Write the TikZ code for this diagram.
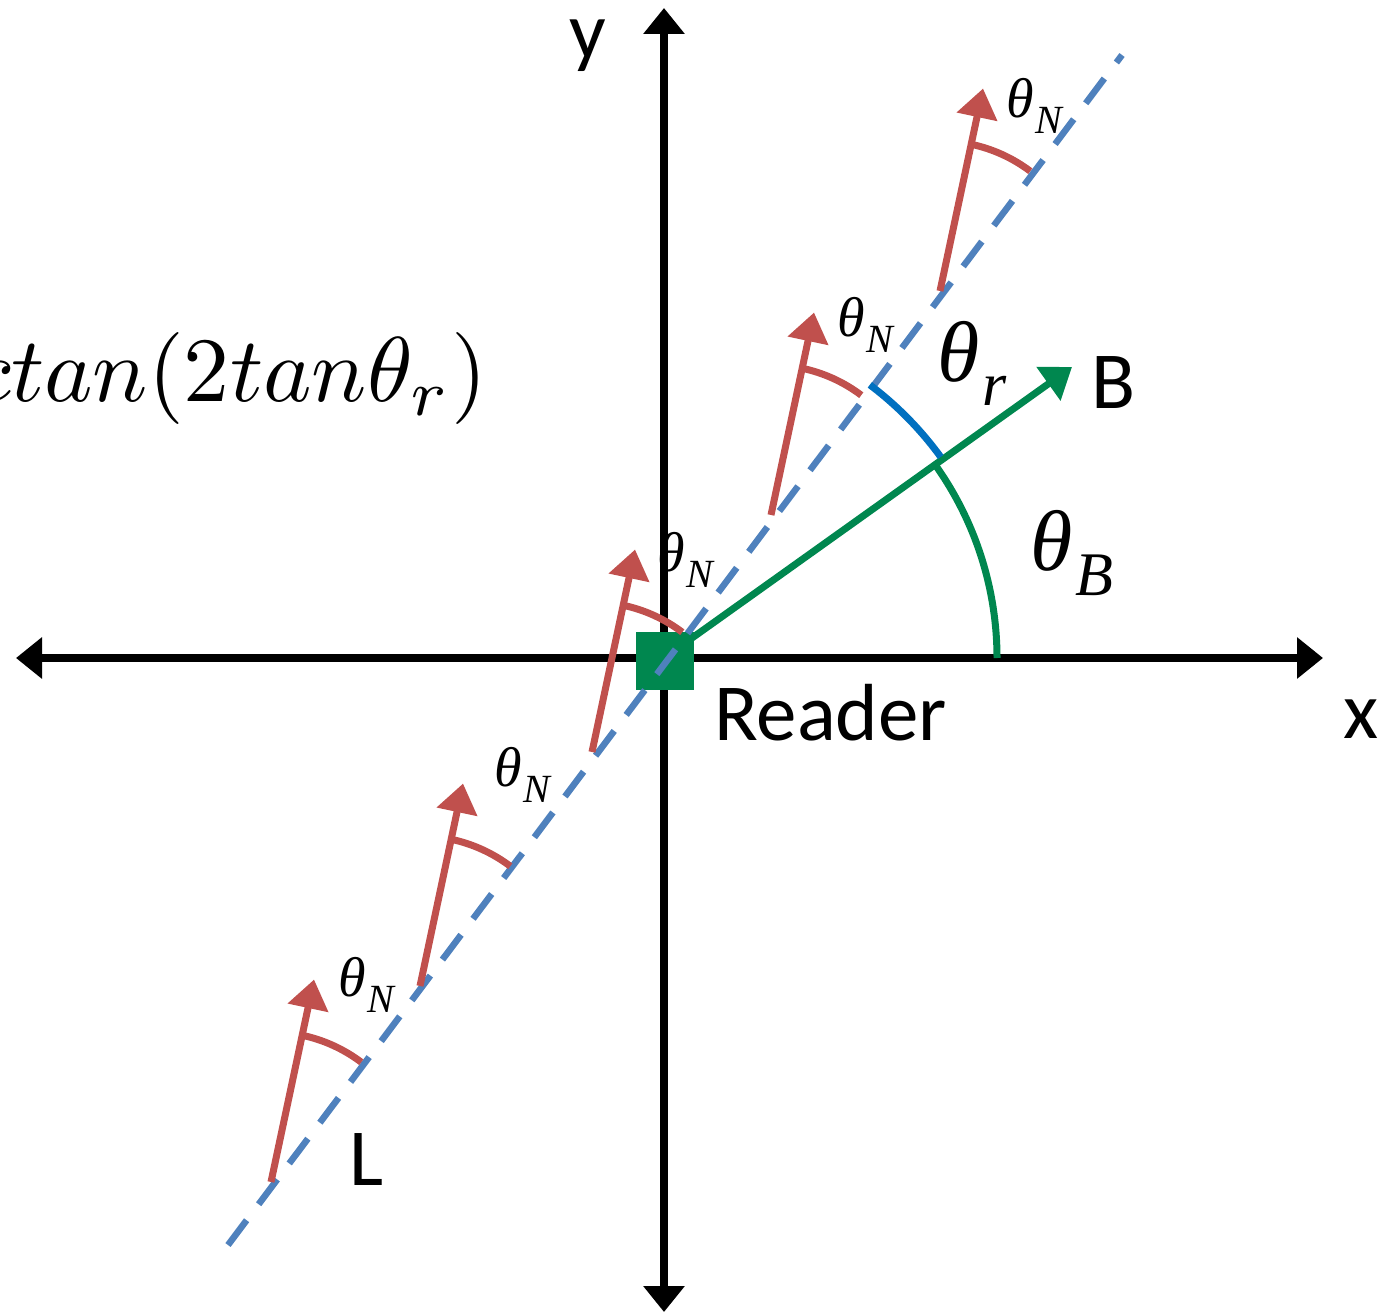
\documentclass[tikz,border=0pt]{standalone}
\usepackage{graphicx}
\usepackage{fontspec}
\setmainfont{Carlito}
\newfontfamily\thetafont{Liberation Serif}
\newcommand{\thlab}[3]{{\fontsize{#1}{#1}\selectfont\thetafont\itshape θ\kern0.03em\raisebox{-0.28em}{\fontsize{#2}{#2}\selectfont #3}}}
\usetikzlibrary{arrows.meta,calc}
\definecolor{axred}{HTML}{C0504D}
\definecolor{axblue}{HTML}{4F81BD}
\definecolor{axgreen}{HTML}{00874F}
\definecolor{arcblue}{HTML}{0070C0}
\begin{document}
\begin{tikzpicture}[x=1pt,y=-1pt,
  axisline/.style={line width=8.5pt,{Triangle[width=40pt,length=26pt]}-{Triangle[width=40pt,length=26pt]}},
  dashline/.style={axblue,line width=6.5pt,dash pattern=on 31pt off 20pt},
  redarrow/.style={axred,line width=7pt,-{Triangle[width=40pt,length=29pt]}},
  redarc/.style={axred,line width=7pt},
  greenarrow/.style={axgreen,line width=7pt,-{Triangle[width=40pt,length=29pt]}},
  lbl/.style={inner sep=0pt,font=\fontsize{81}{90}\selectfont},
  mathlbl/.style={inner sep=0pt},
  reader/.style={fill=axgreen,minimum size=58pt,inner sep=0pt}
]
\useasboundingbox (0,0) rectangle (1384,1313);

% axes
\coordinate (xl) at (16,658);
\coordinate (xr) at (1323,658);
\coordinate (yt) at (664,8);
\coordinate (yb) at (664,1312);
\draw[axisline] (xl) -- (xr);
\draw[axisline] (yb) -- (yt);

% reader and beam
\coordinate (O) at (664,658);
\coordinate (Btip) at (1072,367);
\draw[greenarrow] (O) -- (Btip);
\node[reader] (rd) at (665,661) {};

% dashed array line
\coordinate (d1) at (228,1245);
\coordinate (d2) at (1122,55);
\draw[dashline] (d1) -- (d2);

% red arrows with angle arcs
\foreach \i/\bx/\by in {1/940/291,2/771/515,3/592/752,4/420/986,5/271/1182}{
  \coordinate (A\i) at (\bx,\by);
  \coordinate (T\i) at ($(A\i)+(-78:207)$);
  \draw[redarrow] (A\i) -- (T\i);
  \draw[redarc] ($(A\i)+(-78:150)$) arc[start angle=-78,end angle=-53,radius=150];
}

% angle arcs at the reader
\draw[axgreen,line width=7pt] ($(O)+(0:333)$) arc[start angle=0,end angle=-35.5,radius=333];
\draw[arcblue,line width=7pt] ($(O)+(-36:342)$) arc[start angle=-36,end angle=-53,radius=342];

% labels
\node[mathlbl] (n1) at (1034,106) {\thlab{56}{40}{N}};
\node[mathlbl] (n2) at (865,325) {\thlab{56}{40}{N}};
\node[mathlbl] (n3) at (685,560) {\thlab{56}{40}{N}};
\node[mathlbl] (n4) at (522,775) {\thlab{56}{40}{N}};
\node[mathlbl] (n5) at (366,985) {\thlab{56}{40}{N}};
\node[mathlbl] (tr) at (972,363) {\thlab{86}{62}{r}};
\node[mathlbl] (tb) at (1072,553) {\thlab{86}{62}{B}};

\node[lbl,anchor=base] (ly) at (588,59) {y};
\node[lbl,anchor=base] (lx) at (1361,738) {x};
\node[lbl,anchor=base] (lB) at (1114,408) {B};
\node[lbl,anchor=base] (lL) at (367,1185) {L};
\node[lbl,anchor=base west] (lr) at (714,740) {Reader};

\node[mathlbl,anchor=base east] (fml) at (487,402) {\scalebox{9.2}{$ctan(2tan\theta_r)$}};
\end{tikzpicture}
\end{document}
